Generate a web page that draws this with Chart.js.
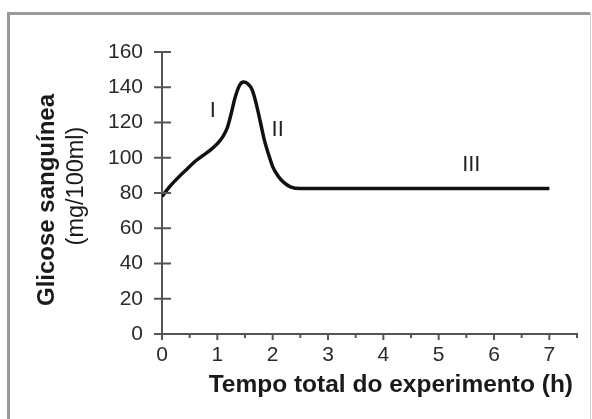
<!DOCTYPE html>
<html>
<head>
<meta charset="utf-8">
<script src="https://cdn.jsdelivr.net/npm/chart.js@4"></script>
<style>
  body { margin: 0; background: #fff; }
  #wrap { width: 592px; height: 419px; position: relative; }
</style>
</head>
<body>
<div id="wrap"><canvas id="glicoseChart"></canvas></div>
<script>
// Valori
const tempoOre = [0, 0.15, 0.3, 0.45, 0.6, 0.75, 0.9, 1.0, 1.1, 1.18, 1.25, 1.32, 1.4, 1.47, 1.55, 1.63, 1.7, 1.78, 1.85, 1.92, 2.0, 2.1, 2.2, 2.32, 2.5, 3, 7];
const glicose = [78, 84, 89, 93.5, 98, 101.5, 105, 108, 112, 117, 125, 134, 141, 143, 142, 138.5, 131, 120, 110, 102.5, 95, 89.5, 86, 83.5, 82.5, 82.5, 82.5];

const yTicks = [0, 20, 40, 60, 80, 100, 120, 140, 160];
const xTicks = [0, 1, 2, 3, 4, 5, 6, 7];
const xMinorTicks = [0.5, 1.5, 2.5, 3.5, 4.5, 5.5, 6.5, 7.5];

const faseLabels = ['I', 'II', 'III'];
const faseX = [0.92, 2.09, 5.59];
const faseY = [126.5, 115.7, 96];

const yTitleBold = 'Glicose sanguínea';
const yTitleUnit = '(mg/100ml)';
const xTitle = 'Tempo total do experimento (h)';

const FONT = '"Liberation Sans", Arial, sans-serif';

// Cornice intorno alla figura
const framePlugin = {
    id: 'frame',
    beforeDraw(chart) {
        const ctx = chart.ctx;
        ctx.save();
        ctx.strokeStyle = '#9a9a9a';
        ctx.lineWidth = 3;
        ctx.beginPath();
        ctx.moveTo(8.5, 430);
        ctx.lineTo(8.5, 13.5);
        ctx.lineTo(590, 13.5);
        ctx.stroke();
        ctx.strokeStyle = '#cccccc';
        ctx.lineWidth = 1;
        ctx.beginPath();
        ctx.moveTo(590.5, 13.5);
        ctx.lineTo(590.5, 430);
        ctx.stroke();
        ctx.restore();
    }
};

// Tacche degli assi, titoli ed etichette delle fasi
const extrasPlugin = {
    id: 'extras',
    afterDraw(chart) {
        const ctx = chart.ctx;
        const x = chart.scales.x;
        const y = chart.scales.y;
        const left = chart.chartArea.left;
        const bottom = chart.chartArea.bottom;

        ctx.save();
        ctx.strokeStyle = '#555';
        ctx.lineWidth = 2;
        ctx.beginPath();
        yTicks.forEach(v => {
            const py = y.getPixelForValue(v);
            ctx.moveTo(left - 8, py);
            ctx.lineTo(left + 9, py);
        });
        xTicks.forEach(v => {
            const px = x.getPixelForValue(v);
            ctx.moveTo(px, bottom);
            ctx.lineTo(px, bottom + 6);
        });
        xMinorTicks.forEach(v => {
            const px = x.getPixelForValue(v);
            ctx.moveTo(px, bottom);
            ctx.lineTo(px, bottom + 4);
        });
        ctx.stroke();

        // titolo asse y su due righe
        ctx.fillStyle = '#1a1a1a';
        ctx.textAlign = 'center';
        ctx.textBaseline = 'middle';
        ctx.save();
        ctx.translate(47, 200);
        ctx.rotate(-Math.PI / 2);
        ctx.font = 'bold 24px ' + FONT;
        ctx.fillText(yTitleBold, 0, 0);
        ctx.restore();
        ctx.save();
        ctx.translate(77, 186);
        ctx.rotate(-Math.PI / 2);
        ctx.font = '23.5px ' + FONT;
        ctx.fillText(yTitleUnit, 0, 0);
        ctx.restore();

        // titolo asse x
        ctx.textAlign = 'right';
        ctx.font = 'bold 24.5px ' + FONT;
        ctx.fillText(xTitle, 573, 385);

        // etichette I, II, III
        ctx.textAlign = 'center';
        ctx.font = '22px ' + FONT;
        ctx.fillStyle = '#222';
        faseLabels.forEach((t, i) => {
            ctx.fillText(t, x.getPixelForValue(faseX[i]), y.getPixelForValue(faseY[i]));
        });
        ctx.restore();
    }
};

const ctx = document.getElementById('glicoseChart').getContext('2d');

new Chart(ctx, {
    type: 'line',
    data: {
        datasets: [{
            data: tempoOre.map((t, i) => ({ x: t, y: glicose[i] })),
            borderColor: '#111',
            borderWidth: 3.5,
            pointRadius: 0,
            fill: false,
            cubicInterpolationMode: 'monotone'
        }]
    },
    options: {
        responsive: true,
        maintainAspectRatio: false,
        animation: false,
        layout: { padding: { top: 52, right: 15, left: 0, bottom: 0 } },
        plugins: {
            legend: { display: false },
            tooltip: { enabled: false }
        },
        scales: {
            x: {
                type: 'linear',
                min: 0,
                max: 7.5,
                afterFit: (scale) => { scale.height = 85; },
                afterBuildTicks: (scale) => { scale.ticks = xTicks.map(v => ({ value: v })); },
                grid: { display: false, drawTicks: false },
                border: { display: true, color: '#555', width: 2 },
                ticks: {
                    padding: 9,
                    color: '#2a2a2a',
                    font: { family: FONT, size: 21 }
                }
            },
            y: {
                min: 0,
                max: 160,
                afterFit: (scale) => { scale.width = 162; },
                afterBuildTicks: (scale) => { scale.ticks = yTicks.map(v => ({ value: v })); },
                grid: { display: false, drawTicks: false },
                border: { display: true, color: '#555', width: 2 },
                ticks: {
                    padding: 19,
                    color: '#2a2a2a',
                    font: { family: FONT, size: 21 }
                }
            }
        }
    },
    plugins: [framePlugin, extrasPlugin]
});
</script>
</body>
</html>
